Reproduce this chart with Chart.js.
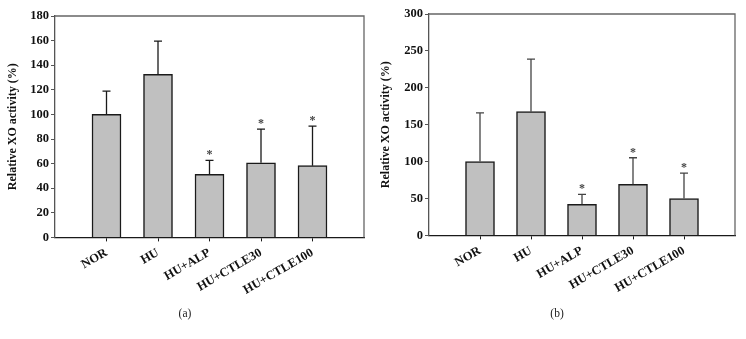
<!DOCTYPE html>
<html>
<head>
<meta charset="utf-8">
<script src="https://cdn.jsdelivr.net/npm/chart.js@4.4.1/dist/chart.umd.min.js"></script>
<style>
	body { margin: 0; background: #fff; }
	.panel { position: absolute; top: 0; width: 373px; height: 339px; }
</style>
</head>
<body>
<div class="panel" style="left:0"><canvas id="chartA" width="373" height="339"></canvas></div>
<div class="panel" style="left:373px"><canvas id="chartB" width="373" height="339"></canvas></div>
<script>
const groups = ['NOR', 'HU', 'HU+ALP', 'HU+CTLE30', 'HU+CTLE100'];
const signif = ['', '', '*', '*', '*'];

// panel (a)
const meanA = [100, 132.5, 51.3, 60.7, 58.3];
const sdA = [19, 27, 11.3, 27.3, 32.1];
// panel (b)
const meanB = [100, 167.7, 42.2, 69.2, 49.9];
const sdB = [66, 71.2, 13.5, 36, 34.6];

const serif = "'Liberation Serif', 'Times New Roman', serif";

// error bars + asterisks, drawn through the y scale
const errorBars = {
	id: 'errorBars',
	afterDatasetsDraw(chart, args, opts) {
		const ctx = chart.ctx;
		const y = chart.scales.y;
		const meta = chart.getDatasetMeta(0);
		ctx.save();
		ctx.strokeStyle = opts.color;
		ctx.lineWidth = 1.3;
		meta.data.forEach((bar, i) => {
			const top = y.getPixelForValue(opts.means[i] + opts.sds[i]);
			const base = y.getPixelForValue(opts.means[i]);
			ctx.beginPath();
			ctx.moveTo(bar.x, base);
			ctx.lineTo(bar.x, top);
			ctx.moveTo(bar.x - 4, top);
			ctx.lineTo(bar.x + 4, top);
			ctx.stroke();
			if (signif[i]) {
				ctx.fillStyle = '#444';
				ctx.font = 'bold 12px ' + serif;
				ctx.textAlign = 'center';
				ctx.textBaseline = 'alphabetic';
				ctx.fillText(signif[i], bar.x, top - 2);
			}
		});
		ctx.restore();
	}
};

// top and right frame lines
const frame = {
	id: 'frame',
	beforeDatasetsDraw(chart) {
		const { ctx, chartArea } = chart;
		ctx.save();
		ctx.strokeStyle = '#666';
		ctx.lineWidth = 1.3;
		ctx.beginPath();
		ctx.moveTo(chartArea.left, chartArea.top);
		ctx.lineTo(chartArea.right, chartArea.top);
		ctx.lineTo(chartArea.right, chartArea.bottom);
		ctx.stroke();
		ctx.restore();
	}
};

const makeChart = (id, means, sds, yMax, yStep, caption, pad, xHeight, errColor) => {
	new Chart(document.getElementById(id), {
		type: 'bar',
		data: {
			datasets: [{
				data: means.map((v, i) => ({ x: i + 1, y: v })),
				backgroundColor: '#c0c0c0',
				borderColor: '#1a1a1a',
				borderWidth: 1.5,
				barThickness: 29,
			}],
		},
		options: {
			responsive: false,
			animation: false,
			layout: { padding: pad },
			plugins: {
				legend: { display: false },
				tooltip: { enabled: false },
				title: {
					display: true,
					text: caption,
					position: 'bottom',
					color: '#222',
					font: { family: serif, size: 11.5, weight: 'normal' },
					padding: { top: 0, bottom: 18 },
				},
				errorBars: { means: means, sds: sds, color: errColor },
			},
			scales: {
				x: {
					type: 'linear',
					min: 0,
					max: 6,
					offset: false,
					afterBuildTicks: (s) => { s.ticks = groups.map((g, i) => ({ value: i + 1 })); },
					afterFit: (s) => { s.height = xHeight; },
					ticks: {
						autoSkip: false,
						minRotation: 30,
						maxRotation: 30,
						padding: 4,
						color: '#111',
						font: { family: serif, size: 12.5, weight: 'bold' },
						callback: (v) => groups[v - 1],
					},
					grid: { drawOnChartArea: false, offset: false, tickLength: 4, color: '#1a1a1a' },
					border: { color: '#1a1a1a', width: 1.3 },
				},
				y: {
					min: 0,
					max: yMax,
					afterFit: (s) => { s.width = pad.yWidth; },
					ticks: {
						stepSize: yStep,
						padding: 2,
						color: '#111',
						font: { family: serif, size: 12.5, weight: 'bold' },
					},
					title: {
						display: true,
						text: 'Relative XO activity (%)',
						color: '#111',
						font: { family: serif, size: 12, weight: 'bold' },
						padding: { top: 0, bottom: 0 },
					},
					grid: { drawOnChartArea: false, tickLength: 4, color: '#555' },
					border: { color: '#555', width: 1.3 },
				},
			},
		},
		plugins: [frame, errorBars],
	});
};

makeChart('chartA', meanA, sdA, 180, 20, '(a)', { top: 16, right: 9, left: 6, bottom: 0, yWidth: 49 }, 69.8, '#1a1a1a');
makeChart('chartB', meanB, sdB, 300, 50, '(b)', { top: 14, right: 11, left: 6, bottom: 0, yWidth: 50 }, 71.8, '#444');
</script>
</body>
</html>
